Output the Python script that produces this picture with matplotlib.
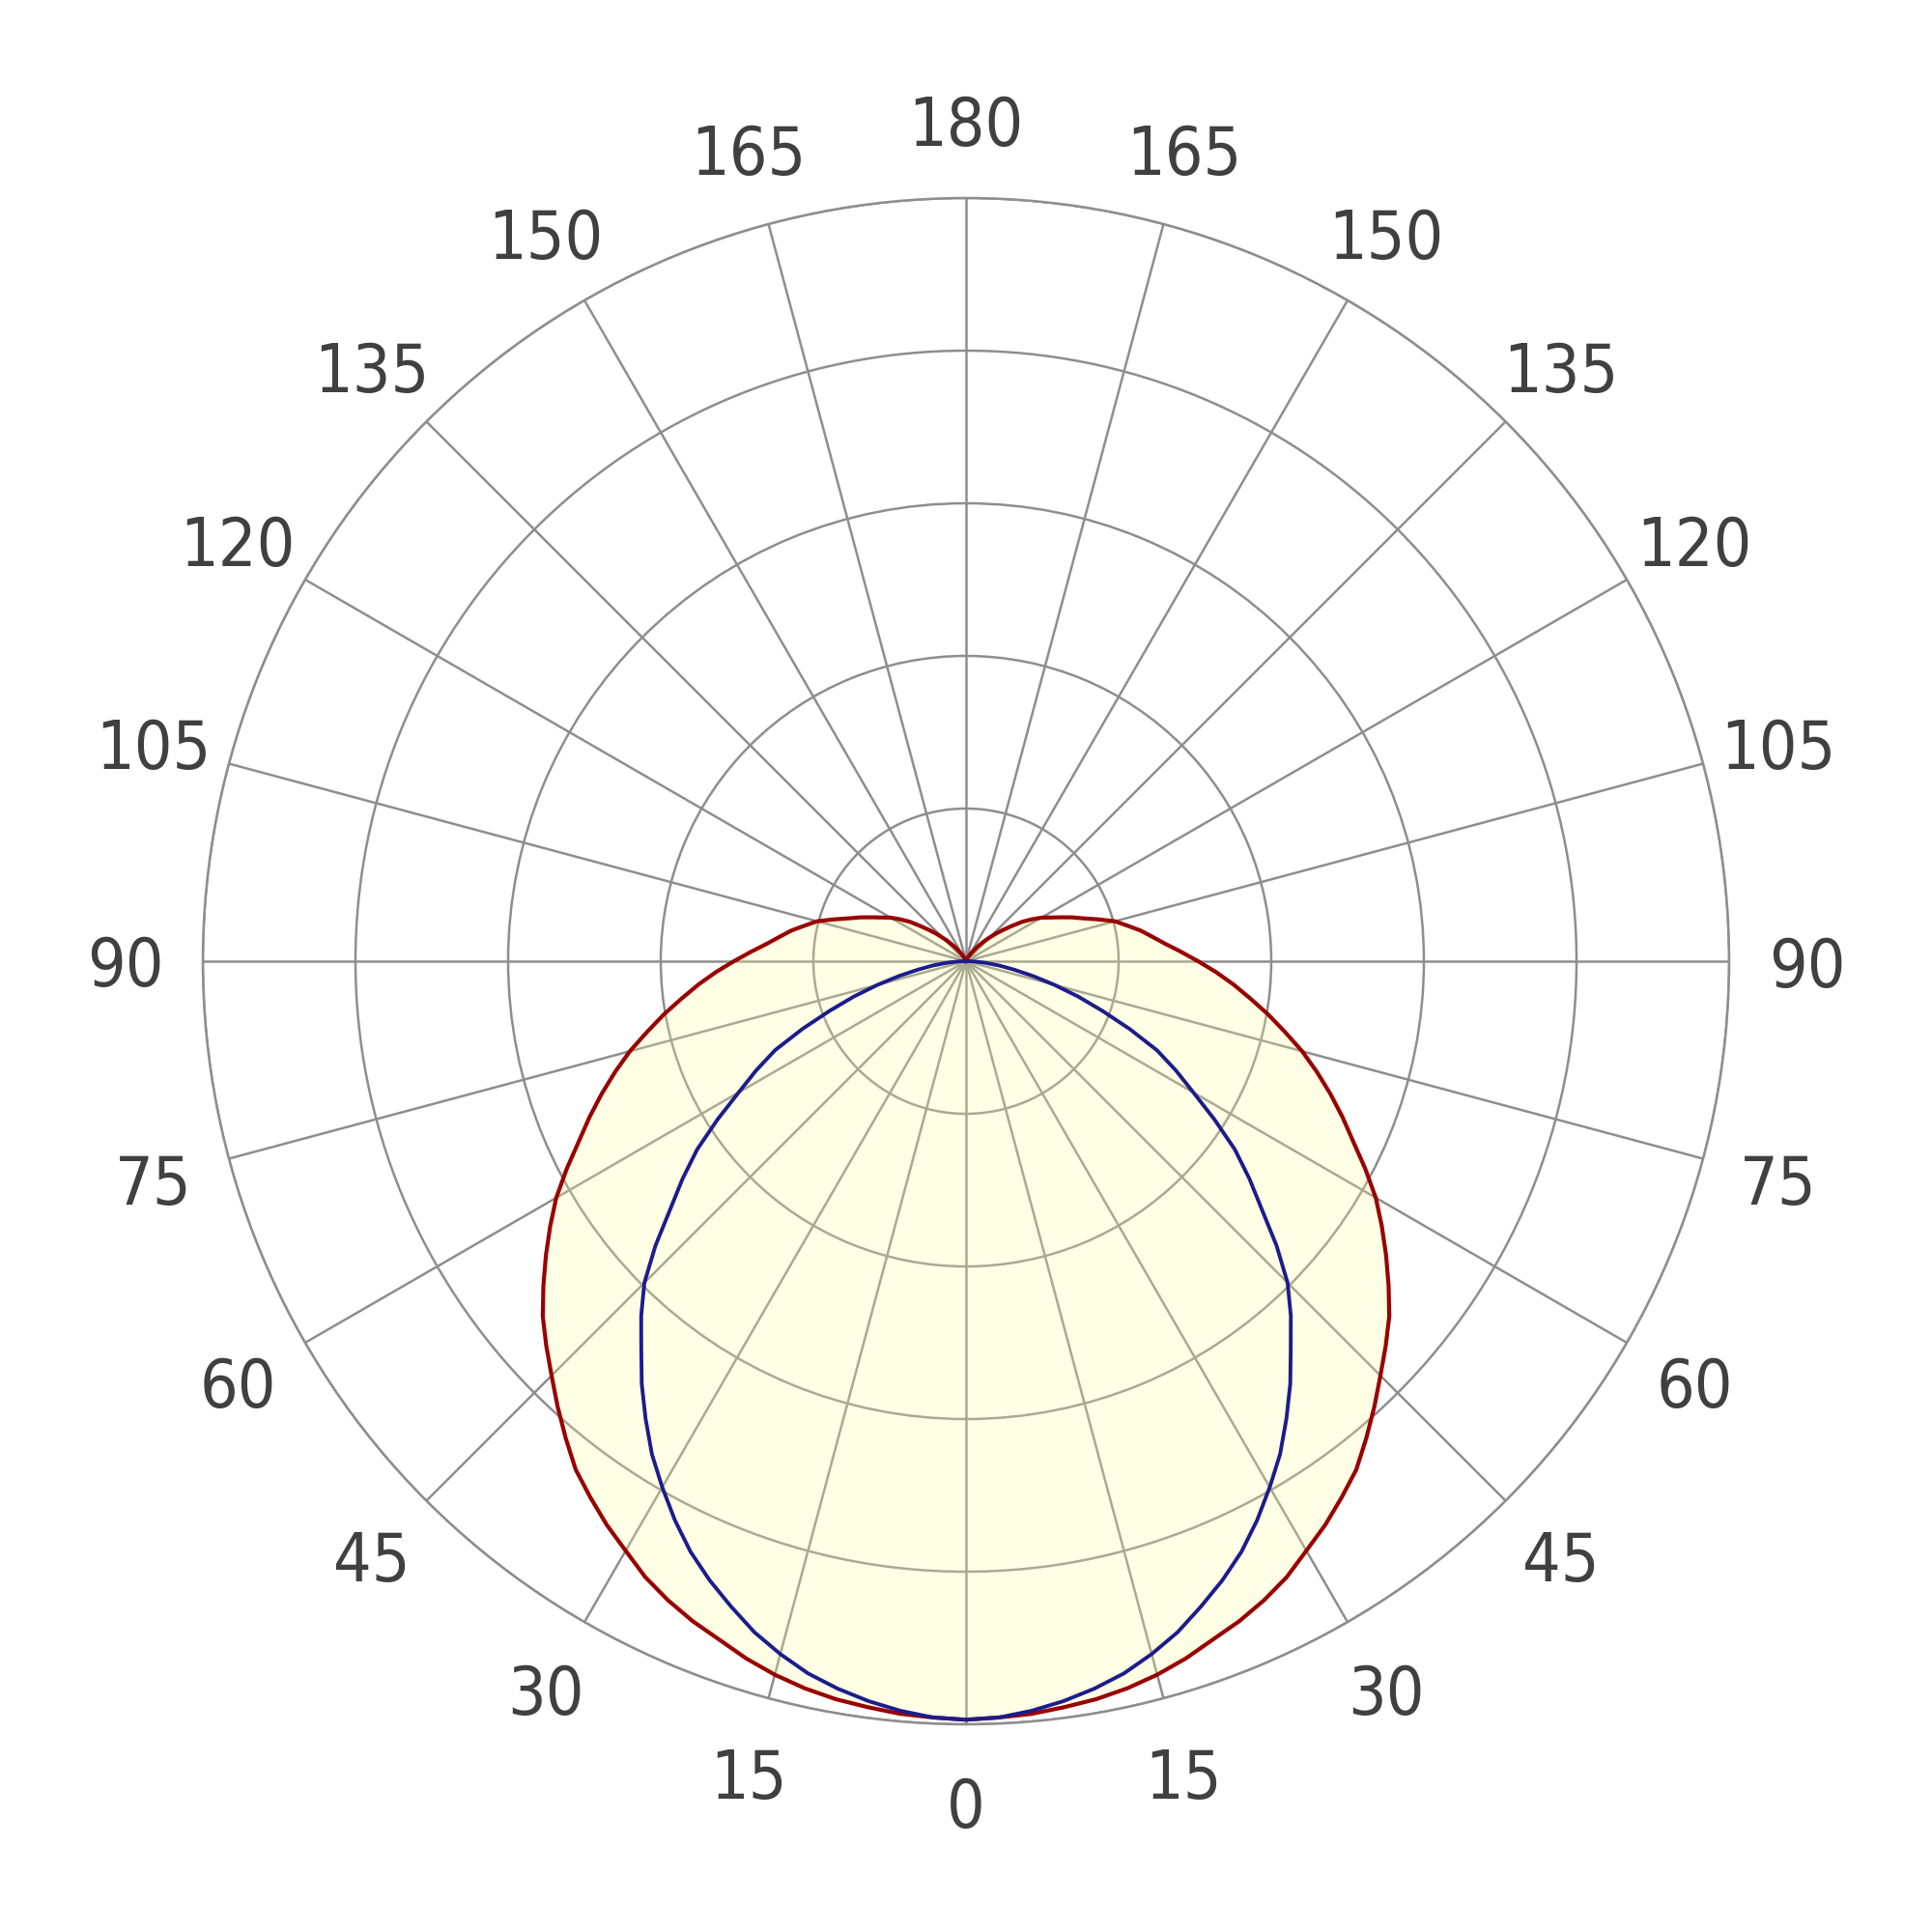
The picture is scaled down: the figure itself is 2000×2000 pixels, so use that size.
import matplotlib.pyplot as plt
import numpy as np

# gamma angles (deg) measured from nadir, same on both sides of the diagram
gamma = [0, 2.5, 5, 7.5, 10, 12.5, 15, 17.5, 20, 22.5, 25, 27.5, 30, 32.5, 35, 37.5,
         40, 42.5, 45, 47.5, 50, 52.5, 55, 57.5, 60, 62.5, 65, 67.5, 70, 72.5, 75,
         77.5, 80, 82.5, 85, 87.5, 90, 92.5, 95, 97.5, 100, 102.5, 105, 107.5, 110,
         112.5, 115, 117.5, 120, 122.5, 125, 127.5, 130, 132.5, 135, 137.5, 140,
         142.5, 145, 147.5, 150, 152.5, 155, 157.5, 160, 162.5, 165, 170, 175, 180]

# C0-C180 plane (red)
plane_c0 = [497, 496, 495, 493, 491, 488, 484, 479, 473, 468, 462, 455, 446, 438,
            429, 420, 408, 396, 384, 373, 362, 349, 336, 323, 310, 295, 280, 267,
            254, 241, 228, 214, 201, 188, 176, 164, 152, 141, 131, 123, 116, 108,
            101, 91, 82, 75, 68, 62, 57, 51, 45, 38, 32, 27, 22, 18, 14, 11, 8, 6,
            4, 3, 2, 1, 1, 0, 0, 0, 0, 0]

# C90-C270 plane (blue)
plane_c90 = [497, 496, 493, 489, 484, 478, 470, 461, 450, 439, 427, 413, 398, 383,
             366, 349, 331, 315, 298, 276, 253, 234, 215, 193, 172, 155, 138, 116,
             95, 77, 60, 45, 32, 22, 13, 6, 2, 0, 0, 0, 0, 0, 0, 0, 0, 0, 0, 0, 0,
             0, 0, 0, 0, 0, 0, 0, 0, 0, 0, 0, 0, 0, 0, 0, 0, 0, 0, 0, 0, 0]

tick_angles = list(range(0, 360, 15))
tick_labels = [str(a if a <= 180 else 360 - a) for a in tick_angles]
ring_values = [100, 200, 300, 400, 500]

grid_col = '#8e8e8e'
text_col = '#404040'

fig = plt.figure(figsize=(20, 20), dpi=100)
ax = fig.add_axes([0.105, 0.1075, 0.79, 0.79], projection='polar')
ax.set_theta_zero_location('S')
ax.set_theta_direction(1)
ax.set_ylim(0, 500)

ax.set_thetagrids(tick_angles, labels=[''] * len(tick_angles))
ax.set_rgrids(ring_values, labels=[''] * len(ring_values))
ax.grid(True, color=grid_col, linewidth=1.8)
ax.spines['polar'].set_color(grid_col)
ax.spines['polar'].set_linewidth(1.8)
ax.set_axisbelow(True)
ax.tick_params(length=0)

# mirror each half-plane to get the full curve
g = np.array(gamma, dtype=float)
full_theta = np.deg2rad(np.concatenate([-g[::-1], g[1:]]))
red_r = np.concatenate([np.array(plane_c0)[::-1], np.array(plane_c0)[1:]])
blue_r = np.concatenate([np.array(plane_c90)[::-1], np.array(plane_c90)[1:]])

ax.fill(full_theta, red_r, color='#ffff99', alpha=0.25, zorder=1, linewidth=0)
ax.plot(full_theta, red_r, color='#990000', linewidth=3.0, zorder=3,
        solid_joinstyle='round')
ax.plot(full_theta, blue_r, color='#1c1c8c', linewidth=2.8, zorder=3,
        solid_joinstyle='round')

for a, lab in zip(tick_angles, tick_labels):
    ax.text(np.deg2rad(a), 551, lab, ha='center', va='center_baseline',
            fontsize=50, color=text_col, clip_on=False,
            family='DejaVu Sans', fontstretch='condensed')

fig.savefig('out.png', dpi=100, facecolor='white')
